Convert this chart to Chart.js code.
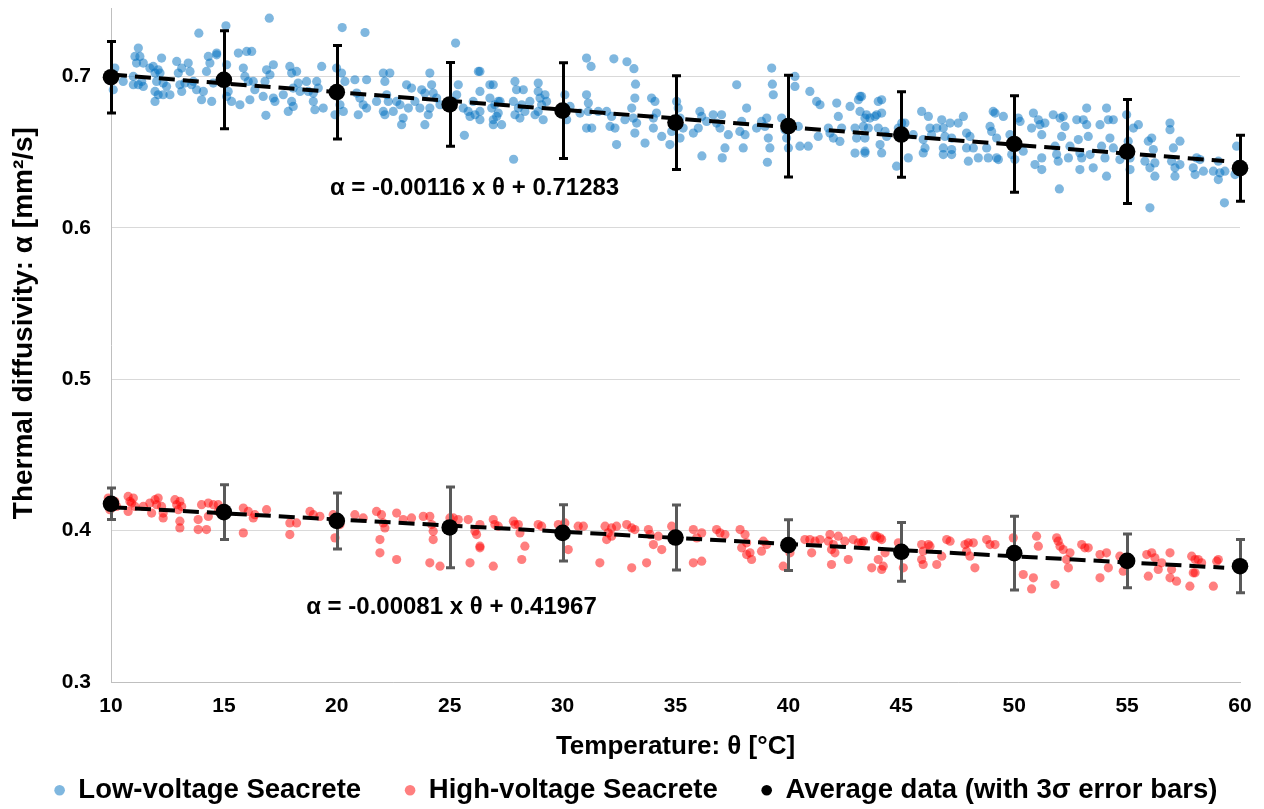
<!DOCTYPE html>
<html>
<head>
<meta charset="utf-8">
<script src="https://cdn.jsdelivr.net/npm/chart.js@4.4.1/dist/chart.umd.min.js"></script>
<style>
html,body{margin:0;padding:0;background:#ffffff;}
canvas{display:block;}
</style>
</head>
<body>
<canvas id="chart" width="1264" height="809"></canvas>
<script>
// ---------- data ----------
const avgTemp = [10, 15, 20, 25, 30, 35, 40, 45, 50, 55, 60];
const lowAvg = [0.6995, 0.6978, 0.6896, 0.6815, 0.6774, 0.6695, 0.6672, 0.6616, 0.6554, 0.6504, 0.6394];
const lowErr3s = [0.0236, 0.0323, 0.0309, 0.0277, 0.0316, 0.0310, 0.0336, 0.0282, 0.0319, 0.0343, 0.0218];
const highAvg = [0.4177, 0.4122, 0.4064, 0.4021, 0.3985, 0.3954, 0.3904, 0.3860, 0.3851, 0.3800, 0.3765];
const highErr3s = [0.0104, 0.0181, 0.0185, 0.0267, 0.0186, 0.0215, 0.0168, 0.0194, 0.0244, 0.0178, 0.0176];

const trendTemp = [10, 59.3];
const lowTrend = [0.7012, 0.6441];
const highTrend = [0.4155, 0.3755];

const yTickValues = [0.3, 0.4, 0.5, 0.6, 0.7];
const xTickValues = [10, 15, 20, 25, 30, 35, 40, 45, 50, 55, 60];

const equationTexts = ['α = -0.00116 x θ + 0.71283', 'α = -0.00081 x θ + 0.41967'];

const lowVoltage = [
[10.10,0.6912],[10.17,0.7055],[10.54,0.6967],[10.99,0.7000],[11.21,0.7187],[11.28,0.7132],[11.06,0.7132],[11.43,0.7088],[11.13,0.7088],[11.21,0.6945],
[11.43,0.6934],[11.36,0.6967],[10.99,0.6945],[11.72,0.7055],[11.87,0.7066],[11.95,0.7022],[12.09,0.7044],[12.24,0.7121],[12.17,0.7022],[12.02,0.6967],
[11.95,0.6901],[12.09,0.6879],[12.31,0.6879],[12.61,0.6879],[11.95,0.6835],[12.46,0.6934],[12.31,0.6956],[12.91,0.7099],[12.98,0.7022],[13.13,0.7055],
[13.05,0.6945],[13.27,0.6956],[13.13,0.6901],[13.42,0.7088],[13.50,0.7033],[13.65,0.6967],[13.57,0.6945],[13.79,0.6912],[14.09,0.6901],[13.89,0.7286],
[14.01,0.6846],[14.46,0.6835],[14.31,0.7132],[14.38,0.7088],[14.23,0.7033],[14.53,0.6956],[14.68,0.7154],[14.68,0.7143],[15.09,0.7334],[15.12,0.7077],
[15.19,0.6901],[15.12,0.6868],[15.34,0.6835],[15.64,0.7154],[15.86,0.7055],[16.01,0.7165],[16.23,0.7165],[15.71,0.6813],[16.15,0.6846],[15.93,0.7000],
[16.08,0.6967],[16.37,0.6912],[16.30,0.6967],[17.01,0.7385],[16.89,0.7044],[17.19,0.7077],[17.04,0.7011],[16.82,0.6967],[16.74,0.6868],[17.19,0.6857],
[17.26,0.6835],[16.86,0.6743],[17.63,0.6879],[17.92,0.7066],[18.00,0.7022],[18.22,0.7033],[18.29,0.6956],[18.07,0.6923],[18.37,0.6901],[18.00,0.6835],
[17.85,0.6769],[18.07,0.6802],[18.66,0.6967],[18.74,0.6901],[18.96,0.6890],[19.11,0.6967],[19.18,0.6923],[18.96,0.6835],[19.33,0.7066],[19.40,0.6791],
[19.03,0.6780],[19.99,0.7055],[20.21,0.7022],[20.36,0.6967],[20.07,0.6879],[20.14,0.6813],[19.92,0.6747],[20.29,0.6769],[20.24,0.7323],[20.80,0.6978],
[20.88,0.6890],[21.02,0.6857],[21.25,0.7290],[21.32,0.6978],[21.17,0.6813],[21.32,0.6791],[20.95,0.6747],[21.76,0.6835],[22.06,0.7022],[22.35,0.7022],
[22.13,0.6967],[22.21,0.6879],[22.28,0.6835],[22.50,0.6769],[22.06,0.6769],[22.13,0.6747],[22.65,0.6835],[22.80,0.6813],[22.94,0.6725],[22.87,0.6681],
[23.09,0.6945],[23.31,0.6923],[23.17,0.6791],[23.46,0.6835],[23.68,0.6791],[23.76,0.6912],[23.90,0.6890],[23.90,0.6681],[24.12,0.7022],[24.20,0.6945],
[24.27,0.6890],[24.12,0.6791],[24.05,0.6747],[24.42,0.6857],[24.57,0.6813],[25.26,0.7220],[25.38,0.6945],[25.31,0.6879],[25.16,0.6835],[25.60,0.6791],
[25.65,0.6611],[25.82,0.6769],[25.90,0.6736],[26.04,0.6835],[26.27,0.7033],[26.34,0.6901],[26.12,0.6747],[26.34,0.6714],[26.78,0.6945],[26.86,0.6791],
[26.93,0.6681],[27.08,0.6736],[27.15,0.6835],
[26.34,0.7033],[26.34,0.6769],[26.93,0.6945],[26.78,0.6857],[27.00,0.6813],[26.93,0.6714],[27.23,0.6835],[27.15,0.6758],[27.30,0.6681],[27.89,0.6967],
[27.96,0.6912],[27.82,0.6835],[27.89,0.6747],[28.04,0.6791],[28.11,0.6725],[28.26,0.6912],[28.19,0.6813],[28.33,0.6769],[28.55,0.6835],[28.78,0.6747],
[28.92,0.6956],[28.92,0.6901],[29.00,0.6857],[29.07,0.6813],[28.92,0.6769],[29.14,0.6714],[29.22,0.6879],[29.29,0.6835],[27.83,0.6453],[29.88,0.6769],
[30.10,0.6879],[30.18,0.6714],[30.33,0.6802],[30.77,0.6758],[31.06,0.7121],[31.26,0.7066],[31.06,0.6879],[31.14,0.6824],[31.14,0.6769],[31.06,0.6659],
[31.29,0.6659],[31.58,0.6769],[31.95,0.6769],[32.10,0.6670],[32.17,0.6736],[32.27,0.7116],[32.32,0.6659],[32.39,0.6550],[32.76,0.6714],[32.85,0.7097],
[33.16,0.7051],[33.23,0.6949],[33.20,0.6857],[33.06,0.6791],[33.13,0.6725],[33.28,0.6692],[33.20,0.6626],[33.65,0.6560],[33.94,0.6857],[34.09,0.6835],
[34.02,0.6725],[34.02,0.6659],[34.16,0.6758],[34.39,0.6604],[34.75,0.6550],[34.83,0.6637],[35.05,0.6835],[35.12,0.6791],[35.20,0.6725],[35.05,0.6681],
[35.34,0.6659],[35.20,0.6593],[35.79,0.6626],[36.08,0.6769],[36.16,0.6736],[36.01,0.6659],[36.17,0.6475],[36.38,0.6703],[36.67,0.6747],[36.82,0.6692],
[36.97,0.6659],[37.04,0.6747],[37.07,0.6462],[37.19,0.6528],[37.34,0.6615],[37.71,0.6945],[37.85,0.6637],[38.00,0.6528],[38.08,0.6615],[38.15,0.6791],
[37.93,0.6703],[38.59,0.6659],[38.81,0.6703],[38.96,0.6670],[39.04,0.6725],[39.07,0.6433],[39.11,0.6593],[39.26,0.7055],[39.29,0.6949],[39.33,0.6879],
[39.18,0.6528],[39.70,0.6725],[39.85,0.6648],[39.92,0.6593],[40.00,0.6528],[40.29,0.7000],[40.29,0.6934],[40.44,0.6670],[40.51,0.6539],[40.88,0.6539],
[40.95,0.6901],[41.25,0.6835],[41.40,0.6813],[41.32,0.6604],[41.77,0.6659],[41.84,0.6626],[41.99,0.6593],[42.14,0.6824],[42.21,0.6736],[42.36,0.6659],
[42.28,0.6571],[42.73,0.6802],[42.95,0.6659],[43.02,0.6593],[43.10,0.6846],[43.17,0.6868],[42.95,0.6494],[43.39,0.6494],[43.39,0.6725],[43.54,0.6659],
[43.46,0.6747],[43.91,0.6747],[43.98,0.6835],
[43.24,0.6868],[43.17,0.6769],[43.32,0.6670],[43.39,0.6593],[43.39,0.6506],[43.61,0.6725],[43.83,0.6736],[43.98,0.6659],[44.13,0.6846],[44.13,0.6758],
[44.06,0.6550],[44.13,0.6495],[44.28,0.6637],[44.35,0.6604],[44.79,0.6407],[44.87,0.6659],[45.02,0.6692],[45.16,0.6692],[45.31,0.6462],[45.53,0.6615],
[45.90,0.6769],[45.97,0.6583],[45.97,0.6495],[46.05,0.6528],[46.20,0.6736],[46.27,0.6659],[46.34,0.6615],[46.57,0.6659],[46.79,0.6714],[46.86,0.6659],
[46.93,0.6604],[46.86,0.6528],[46.86,0.6484],[47.16,0.6692],[47.23,0.6593],[47.23,0.6517],[47.23,0.6484],[47.52,0.6692],[47.75,0.6736],[47.89,0.6626],
[47.89,0.6528],[47.97,0.6440],[48.04,0.6604],[48.19,0.6528],[48.41,0.6462],[48.78,0.6528],[48.85,0.6462],[48.93,0.6670],[49.00,0.6637],[49.07,0.6769],
[49.15,0.6758],[49.22,0.6593],[49.22,0.6462],[49.30,0.6451],[49.52,0.6736],[49.81,0.6615],[49.89,0.6484],[50.03,0.6451],[50.18,0.6725],[50.26,0.6703],
[50.40,0.6506],[50.77,0.6659],[50.85,0.6758],[50.92,0.6418],[51.07,0.6714],[51.14,0.6681],[51.22,0.6615],[51.22,0.6462],[51.22,0.6385],[51.36,0.6692],
[51.73,0.6747],[51.81,0.6539],[51.88,0.6484],[51.95,0.6440],[52.00,0.6257],[52.03,0.6725],[52.17,0.6736],[52.10,0.6604],[52.25,0.6670],[52.40,0.6462],
[52.47,0.6539],[52.77,0.6714],[52.84,0.6583],[52.91,0.6495],[52.91,0.6385],[52.99,0.6462],[53.06,0.6714],[53.21,0.6791],[53.21,0.6681],[53.28,0.6604],
[53.36,0.6484],[53.50,0.6396],[53.80,0.6681],[53.87,0.6539],[54.02,0.6462],[54.09,0.6791],[54.09,0.6341],[54.17,0.6714],[54.24,0.6593],[54.39,0.6714],
[54.39,0.6528],[54.68,0.6451],[54.98,0.6747],[55.05,0.6572],[55.13,0.6462],[55.13,0.6385],[55.28,0.6659],[55.50,0.6681],[55.79,0.6440],[55.94,0.6572],
[56.01,0.6396],[56.01,0.6132],[56.09,0.6593],[56.16,0.6517],[56.23,0.6341],[56.23,0.6429],[56.90,0.6692],[56.90,0.6648],[56.97,0.6440],[57.05,0.6528],
[57.12,0.6341],[57.12,0.6396],[57.34,0.6572],[57.34,0.6418],[57.93,0.6396],[58.01,0.6352],[58.08,0.6462],[58.23,0.6451],[58.38,0.6374],[58.82,0.6374],
[59.04,0.6440],[59.04,0.6319],[59.11,0.6363],[59.31,0.6165],[59.33,0.6374],[59.78,0.6352],[59.85,0.6539],[59.93,0.6418]
];

const highVoltage = [
[9.88,0.4215],[10.17,0.4193],[9.95,0.4138],[10.25,0.4160],[10.76,0.4226],[10.84,0.4193],[10.99,0.4215],[10.91,0.4182],[10.76,0.4127],[11.06,0.4160],
[11.43,0.4160],[11.72,0.4182],[11.80,0.4116],[11.95,0.4204],[12.02,0.4171],[12.09,0.4215],[12.24,0.4160],[12.31,0.4116],[12.31,0.4084],[12.83,0.4204],
[12.91,0.4171],[13.05,0.4193],[13.13,0.4160],[12.98,0.4138],[13.05,0.4062],[13.05,0.4018],[13.86,0.4073],[13.86,0.4007],[14.23,0.4007],[14.01,0.4171],
[14.31,0.4182],[14.53,0.4171],[14.75,0.4171],[14.31,0.4094],[14.75,0.4127],[15.86,0.4149],[16.08,0.4127],[16.30,0.4084],[15.86,0.3985],[16.37,0.4105],
[16.89,0.4138],[17.92,0.4051],[17.92,0.3974],[18.22,0.4051],[18.81,0.4127],[18.96,0.4105],[19.25,0.4094],[19.84,0.4105],[19.92,0.3952],[20.14,0.4040],
[20.80,0.4105],[21.17,0.4084],[21.76,0.4127],[21.98,0.4105],[22.06,0.4051],[22.13,0.4018],[21.91,0.3941],[21.91,0.3853],[22.65,0.3809],[22.65,0.4116],
[22.94,0.4073],[23.31,0.4084],[23.83,0.4094],[24.12,0.4094],[24.20,0.4040],[24.27,0.3996],[24.27,0.3941],[24.12,0.3787],[24.57,0.3765],[25.01,0.4084],
[25.16,0.4084],[25.38,0.4073],[25.82,0.4073],[25.90,0.3787],[26.12,0.3996],[26.19,0.3974],[26.34,0.3886],[26.93,0.4073],[27.00,0.4040],[26.93,0.3765],
[26.34,0.4040],[26.34,0.3897],[27.15,0.4029],[27.82,0.4062],[27.89,0.4040],[28.04,0.4040],[28.11,0.3985],[28.19,0.3809],[28.33,0.3897],[28.92,0.4040],
[29.07,0.4029],[29.81,0.4040],[30.10,0.4051],[30.25,0.3875],[30.69,0.4029],[30.92,0.4029],[31.65,0.3787],[31.88,0.4029],[32.02,0.3985],[32.17,0.4018],
[31.95,0.3941],[32.17,0.3963],[32.39,0.4029],[32.84,0.4040],[33.06,0.4018],[33.20,0.4007],[33.06,0.3754],[33.72,0.3787],[33.80,0.4007],[33.87,0.3974],
[34.02,0.3908],[34.24,0.3963],[34.39,0.3875],[34.83,0.4029],[35.79,0.4007],[35.94,0.3952],[36.16,0.3985],[35.79,0.3787],[36.16,0.3798],[36.82,0.4007],
[36.97,0.3985],[37.19,0.3974],[37.86,0.4007],[38.08,0.3974],[38.15,0.3919],[37.93,0.3886],[38.15,0.3842],[38.37,0.3809],[38.30,0.3853],[38.81,0.3864],
[38.89,0.3930],[39.04,0.3908],[40.07,0.3853],[39.77,0.3765],[40.73,0.3941],[40.95,0.3941],[41.18,0.3930],[41.40,0.3941],[41.03,0.3853],[41.77,0.3930],
[41.84,0.3974],[41.91,0.3875],[42.06,0.3853],[41.99,0.3908],[42.21,0.3963],[42.50,0.3930],[42.65,0.3809],[42.87,0.3941],[43.10,0.3919],[43.24,0.3919],
[41.91,0.3776],[43.69,0.3754],[43.91,0.3963],[43.98,0.3809],
[43.32,0.3929],[43.83,0.3963],[44.06,0.3952],[44.13,0.3941],[44.28,0.3853],[44.20,0.3765],[44.13,0.3743],[44.87,0.3919],[45.09,0.3754],[45.90,0.3908],
[45.97,0.3864],[46.20,0.3908],[46.27,0.3897],[45.90,0.3809],[45.97,0.3776],[46.57,0.3776],[46.79,0.3831],[47.01,0.3941],[47.16,0.3930],[47.82,0.3908],
[47.89,0.3864],[47.97,0.3919],[48.19,0.3919],[48.04,0.3831],[48.26,0.3754],[48.78,0.3941],[48.93,0.3908],[49.15,0.3908],[49.96,0.3952],[50.40,0.3710],
[50.85,0.3688],[50.77,0.3615],[50.99,0.3963],[51.07,0.3897],[51.88,0.3952],[51.95,0.3930],[52.03,0.3897],[52.17,0.3875],[52.47,0.3853],[52.32,0.3809],
[52.40,0.3754],[52.99,0.3908],[53.13,0.3886],[53.28,0.3886],[51.81,0.3644],[53.80,0.3842],[54.09,0.3853],[54.17,0.3754],[53.80,0.3688],[54.68,0.3831],
[54.83,0.3732],[55.87,0.3842],[56.09,0.3853],[56.23,0.3820],[55.94,0.3699],[56.38,0.3743],[56.53,0.3787],[56.90,0.3853],[56.97,0.3743],[56.90,0.3688],
[57.19,0.3666],[57.78,0.3633],[57.86,0.3831],[58.01,0.3809],[58.15,0.3809],[57.93,0.3721],[58.01,0.3721],[58.30,0.3787],[58.82,0.3633],[58.97,0.3798],
[59.04,0.3809]
];

// ---------- layout / style (not data) ----------
const FONT = '"Liberation Sans", Arial, Helvetica, sans-serif';
const equationAnchors = [{x: 26.1, y: 0.6262}, {x: 25.08, y: 0.3492}];
const yTitleShift = -22;

const toXY = (xs, ys) => xs.map((x, i) => ({x: x, y: ys[i]}));
const pairsToXY = arr => arr.map(p => ({x: p[0], y: p[1]}));

const errorBarPlugin = {
  id: 'errorBars',
  beforeDatasetDraw(chart, args) {
    const ds = chart.data.datasets[args.index];
    if (!ds.errors) return;
    const ctx = chart.ctx;
    const ys = chart.scales.y;
    ctx.save();
    ctx.strokeStyle = ds.errorColor;
    ctx.lineWidth = 3;
    ctx.lineCap = 'butt';
    args.meta.data.forEach((pt, i) => {
      const v = ds.data[i].y, e = ds.errors[i];
      const top = ys.getPixelForValue(v + e);
      const bot = ys.getPixelForValue(v - e);
      const x = Math.round(pt.x) + 0.5;
      ctx.beginPath();
      ctx.moveTo(x, top); ctx.lineTo(x, bot);
      ctx.moveTo(x - 4.5, top); ctx.lineTo(x + 4.5, top);
      ctx.moveTo(x - 4.5, bot); ctx.lineTo(x + 4.5, bot);
      ctx.stroke();
    });
    ctx.restore();
  }
};

const equationPlugin = {
  id: 'equations',
  afterDatasetsDraw(chart) {
    const ctx = chart.ctx;
    ctx.save();
    ctx.font = 'bold 24px ' + FONT;
    ctx.fillStyle = '#000000';
    ctx.textAlign = 'center';
    ctx.textBaseline = 'middle';
    equationTexts.forEach((t, i) => {
      const a = equationAnchors[i];
      ctx.fillText(t, chart.scales.x.getPixelForValue(a.x), chart.scales.y.getPixelForValue(a.y));
    });
    ctx.restore();
  }
};

const layoutTweakPlugin = {
  id: 'layoutTweak',
  afterLayout(chart) {
    const lg = chart.legend;
    if (lg) { lg.left += 4; lg.right += 4; lg.top += 5; lg.bottom += 5; }
    const ys = chart.scales.y;
    if (ys && !ys._titleShifted) {
      const orig = ys.drawTitle.bind(ys);
      ys.drawTitle = function () {
        this.ctx.save();
        this.ctx.translate(0, yTitleShift);
        orig();
        this.ctx.restore();
      };
      ys._titleShifted = true;
    }
  }
};

Chart.defaults.font.family = FONT;
Chart.defaults.font.weight = 'bold';
Chart.defaults.color = '#000000';

const zeroPad = s => { s.paddingTop = 0; s.paddingBottom = 0; s.paddingLeft = 0; s.paddingRight = 0; };

new Chart(document.getElementById('chart'), {
  type: 'scatter',
  data: {
    datasets: [
      {
        label: 'Low-voltage Seacrete',
        data: pairsToXY(lowVoltage),
        backgroundColor: 'rgba(0,112,192,0.5)',
        borderColor: 'rgba(0,112,192,0.5)',
        pointRadius: 4.6,
        pointBorderWidth: 0,
        order: 4,
        clip: false
      },
      {
        label: 'High-voltage Seacrete',
        data: pairsToXY(highVoltage),
        backgroundColor: 'rgba(255,0,0,0.5)',
        borderColor: 'rgba(255,0,0,0.5)',
        pointRadius: 4.6,
        pointBorderWidth: 0,
        order: 4,
        clip: false
      },
      {
        label: 'Average data (with 3σ error bars)',
        data: toXY(avgTemp, lowAvg),
        errors: lowErr3s,
        errorColor: '#000000',
        backgroundColor: '#000000',
        borderColor: '#000000',
        pointRadius: 8.3,
        pointBorderWidth: 0,
        order: 1,
        clip: false
      },
      {
        label: 'Average high',
        data: toXY(avgTemp, highAvg),
        errors: highErr3s,
        errorColor: '#595959',
        backgroundColor: '#000000',
        borderColor: '#000000',
        pointRadius: 8.3,
        pointBorderWidth: 0,
        order: 1,
        clip: false
      },
      {
        label: 'Trend low',
        type: 'line',
        data: toXY(trendTemp, lowTrend),
        borderColor: '#000000',
        borderWidth: 4,
        borderDash: [16, 8],
        pointRadius: 0,
        fill: false,
        order: 2,
        clip: false
      },
      {
        label: 'Trend high',
        type: 'line',
        data: toXY(trendTemp, highTrend),
        borderColor: '#000000',
        borderWidth: 4,
        borderDash: [16, 8],
        pointRadius: 0,
        fill: false,
        order: 2,
        clip: false
      }
    ]
  },
  options: {
    responsive: false,
    animation: false,
    devicePixelRatio: 1,
    events: [],
    layout: { padding: { left: 0, right: 0, top: 7, bottom: 0 } },
    plugins: {
      tooltip: { enabled: false },
      legend: {
        display: true,
        position: 'bottom',
        align: 'center',
        labels: {
          filter: item => item.datasetIndex <= 2,
          sort: (a, b) => a.datasetIndex - b.datasetIndex,
          usePointStyle: true,
          pointStyle: 'circle',
          boxWidth: 10,
          boxHeight: 7.5,
          padding: 44,
          color: '#000000',
          font: { size: 27.5, weight: 'bold', family: FONT }
        }
      }
    },
    scales: {
      x: {
        type: 'linear',
        min: 10,
        max: 60,
        afterBuildTicks: s => { s.ticks = xTickValues.map(v => ({value: v})); },
        afterFit: s => { s.height = 45.5; zeroPad(s); },
        grid: { display: false, drawTicks: false },
        border: { display: true, color: '#bfbfbf', width: 1 },
        ticks: { padding: 12, maxRotation: 0, autoSkip: false, font: { size: 21, weight: 'bold' }, color: '#000000' },
        title: {
          display: true,
          text: 'Temperature: θ [°C]',
          font: { size: 26, weight: 'bold' },
          color: '#000000',
          padding: { top: 0, bottom: -35 }
        }
      },
      y: {
        type: 'linear',
        position: 'left',
        min: 0.3,
        max: 0.745,
        afterBuildTicks: s => { s.ticks = yTickValues.map(v => ({value: v})); },
        afterFit: s => { s.width = 111; zeroPad(s); },
        grid: { color: '#d9d9d9', lineWidth: 1, drawTicks: false },
        border: { display: true, color: '#bfbfbf', width: 1 },
        ticks: {
          padding: 20,
          font: { size: 21, weight: 'bold' },
          color: '#000000',
          callback: v => Number(v).toFixed(1)
        },
        title: {
          display: true,
          text: 'Thermal diffusivity: α [mm²/s]',
          font: { size: 28, weight: 'bold' },
          color: '#000000',
          padding: { top: 7, bottom: 0 }
        }
      },
      rightSpace: {
        type: 'linear',
        position: 'right',
        display: true,
        afterFit: s => { s.width = 24; zeroPad(s); },
        grid: { display: false, drawTicks: false },
        border: { display: false },
        ticks: { display: false }
      }
    }
  },
  plugins: [errorBarPlugin, equationPlugin, layoutTweakPlugin]
});
</script>
</body>
</html>
